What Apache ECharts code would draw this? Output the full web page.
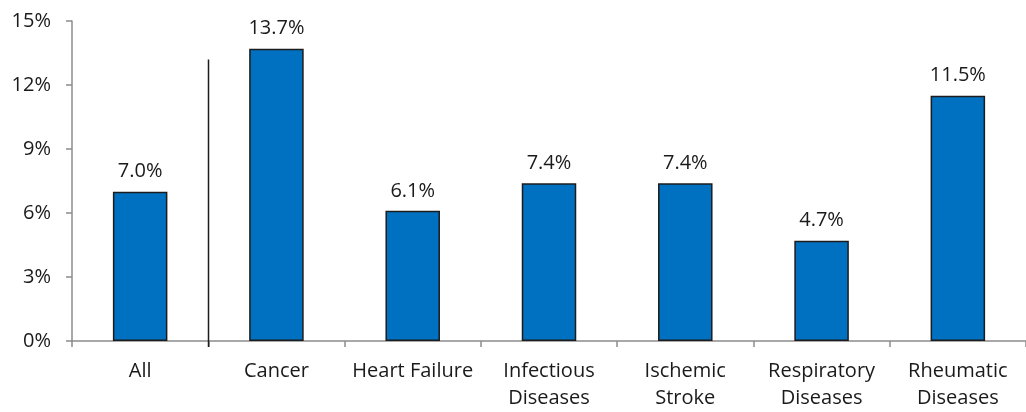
<!DOCTYPE html>
<html>
<head>
<meta charset="utf-8">
<style>
  html, body { margin: 0; padding: 0; background: #ffffff; }
  #chart { width: 1026px; height: 412px; }
</style>
<script src="https://cdn.jsdelivr.net/npm/echarts@6/dist/echarts.min.js"></script>
</head>
<body>
<div id="chart"></div>
<script>
// Share of patients by diagnosis group (percent)
const categories = ['All', 'Cancer', 'Heart Failure', 'Infectious\nDiseases', 'Ischemic\nStroke', 'Respiratory\nDiseases', 'Rheumatic\nDiseases'];
const values = [7.0, 13.7, 6.1, 7.4, 7.4, 4.7, 11.5];
const yTicks = [0, 3, 6, 9, 12, 15];

const FONT = '"Open Sans", "DejaVu Sans", sans-serif';
const TEXT = '#1a1a1a';
const AXIS = '#8c8c8c';

const chart = echarts.init(document.getElementById('chart'), null, { renderer: 'canvas' });

chart.setOption({
  animation: false,
  backgroundColor: '#ffffff',
  grid: { left: 72, right: -6, top: 21, bottom: 70, containLabel: false },
  xAxis: {
    type: 'category',
    data: categories,
    boundaryGap: true,
    axisLine: { show: true, lineStyle: { color: AXIS, width: 1.5 } },
    axisTick: { show: true, alignWithLabel: false, length: 6, lineStyle: { color: AXIS, width: 1.5 } },
    axisLabel: {
      interval: 0,
      margin: 17,
      color: TEXT,
      fontFamily: FONT,
      fontSize: 20,
      lineHeight: 27
    }
  },
  yAxis: {
    type: 'value',
    min: yTicks[0],
    max: yTicks[yTicks.length - 1],
    interval: yTicks[1] - yTicks[0],
    axisLine: { show: true, lineStyle: { color: AXIS, width: 1.5 } },
    axisTick: { show: true, length: 6, lineStyle: { color: AXIS, width: 1.5 } },
    splitLine: { show: false },
    axisLabel: {
      margin: 21,
      color: TEXT,
      fontFamily: FONT,
      fontSize: 20,
      formatter: v => v + '%'
    }
  },
  series: [{
    type: 'bar',
    data: values,
    barWidth: '40%',
    itemStyle: { color: '#0070C0', borderColor: '#1c1c1c', borderWidth: 1.5 },
    label: {
      show: true,
      position: 'top',
      distance: 10,
      color: TEXT,
      fontFamily: FONT,
      fontSize: 20,
      formatter: p => p.value.toFixed(1) + '%'
    }
  }]
});

// Divider between the overall bar and the per-diagnosis bars
function drawDivider() {
  const x0 = chart.convertToPixel({ xAxisIndex: 0 }, categories[0]);
  const x1 = chart.convertToPixel({ xAxisIndex: 0 }, categories[1]);
  const x = Math.round((x0 + x1) / 2) + 0.5;
  const yTop = chart.convertToPixel({ yAxisIndex: 0 }, 13.2);
  const yBase = chart.convertToPixel({ yAxisIndex: 0 }, 0);
  chart.setOption({
    graphic: [{
      type: 'line',
      z: 10,
      shape: { x1: x, y1: yTop, x2: x, y2: yBase + 6 },
      style: { stroke: '#1c1c1c', lineWidth: 1.5 }
    }]
  });
}
drawDivider();
</script>
</body>
</html>
